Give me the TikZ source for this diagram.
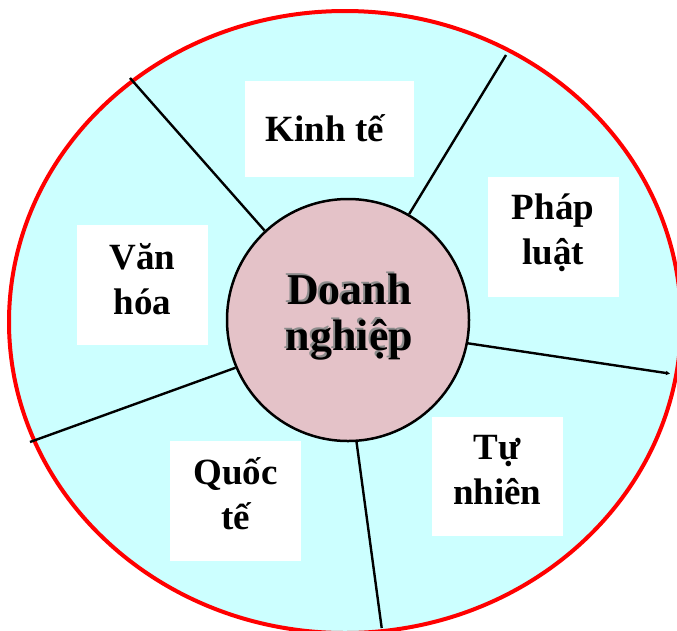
\documentclass[tikz,border=0pt]{standalone}
\usepackage{fontspec}
\setmainfont{Liberation Serif}
\usetikzlibrary{arrows.meta}
\definecolor{bgcyan}{RGB}{204,255,255}
\definecolor{pinkc}{RGB}{228,194,200}
\begin{document}
\begin{tikzpicture}[x=1pt,y=-1pt,
  box/.style={fill=white, inner sep=0pt},
  boxtext/.style={inner sep=0pt, font=\fontsize{37}{45}\selectfont\bfseries, align=center},
  spoke/.style={line width=2.4pt},
  centertext/.style={font=\fontsize{44}{46}\selectfont\bfseries, align=center, inner sep=0pt}]
\useasboundingbox (0,0) rectangle (677,630);
\clip (0,0) rectangle (677,630);
\draw[fill=bgcyan, draw=red, line width=4pt] (345,322) ellipse [x radius=336, y radius=311];
% boxes
\node[box, minimum width=169pt, minimum height=96pt] (kt) at (329,129) {};
\node[box, minimum width=131pt, minimum height=119.5pt] (pl) at (553,237) {};
\node[box, minimum width=131pt, minimum height=119.5pt] (vh) at (142.4,285) {};
\node[box, minimum width=131pt, minimum height=119.5pt] (qt) at (235.5,501) {};
\node[box, minimum width=131pt, minimum height=119pt] (tn) at (497.3,476.5) {};
\node[boxtext] (ktt) at ([xshift=-4pt,yshift=1pt]kt.center) {Kinh tế};
\node[boxtext] (plt) at ([yshift=4pt]pl.center) {Pháp\\luật};
\node[boxtext] (vht) at ([yshift=6pt]vh.center) {Văn\\hóa};
\node[boxtext] (qtt) at ([yshift=7pt]qt.center) {Quốc\\tế};
\node[boxtext] (tnt) at ([yshift=6pt]tn.center) {Tự\\nhiên};
% center circle
\node[circle, draw, line width=2.5pt, fill=pinkc, minimum size=242pt, inner sep=0pt] (c) at (348,320) {};
% spokes
\coordinate (o1) at (130,78);
\coordinate (o2) at (506,55);
\coordinate (o3) at (670,373.6);
\coordinate (o4) at (381.7,628);
\coordinate (o5) at (30,442);
\draw[spoke] (c.133.3) -- (o1);
\draw[spoke] (c.60.9) -- (o2);
\draw[spoke, -{Triangle[length=4pt,width=4pt]}] (c.-11.9) -- (o3);
\draw[spoke] (c.-86) -- (o4);
\draw[spoke] (c.203.8) -- (o5);
% center text with shadow
\node[centertext, text=black!45] (dns) at (347.5,315) {Doanh\\nghiệp};
\node[centertext, text=black] (dn) at (349.5,317) {Doanh\\nghiệp};
\end{tikzpicture}
\end{document}
